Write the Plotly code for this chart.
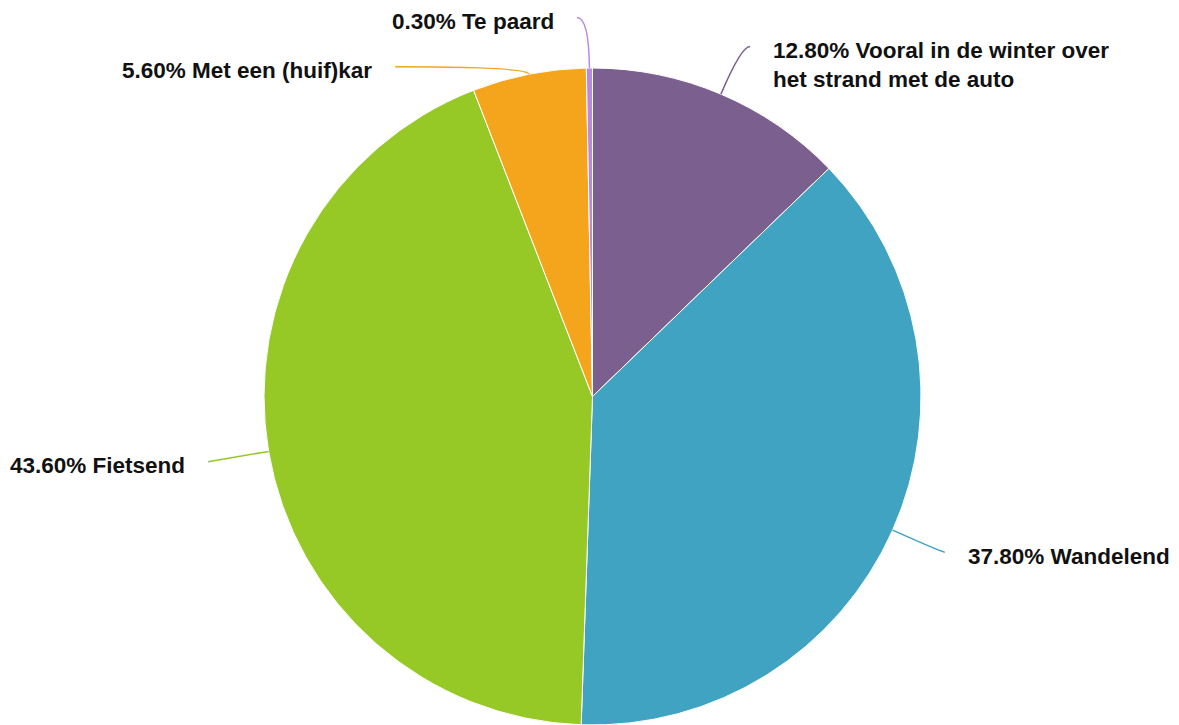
import math
import plotly.graph_objects as go

# ---- data ----
labels = ["Vooral in de winter over<br>het strand met de auto", "Wandelend", "Fietsend",
          "Met een (huif)kar", "Te paard"]
values = [12.8, 37.8, 43.6, 5.6, 0.3]
colors = ["#7B5F8E", "#40A3C1", "#96C826", "#F5A51C", "#B98BDF"]

# ---- layout constants (page pixels) ----
PAGE_OFF = 8              # browser default body margin
W, H = 1179 - PAGE_OFF, 725 - PAGE_OFF
R = 328.5
CX = 592.5 - PAGE_OFF     # figure coords
CY = H - R                # pie touches figure bottom
LABEL_R = 390
# per-label nudges of the label anchor (layout only)
nudge = [(5, 9), (-4, -3), (0, 0), (-122, 53), (-12, 11)]

fig = go.Figure(go.Pie(
    labels=labels, values=values, sort=False, direction="clockwise", rotation=0,
    marker=dict(colors=colors, line=dict(color="white", width=1)),
    textinfo="none", hoverinfo="label+percent", showlegend=False,
    domain=dict(x=[(CX - R) / W, (CX + R) / W], y=[0, 2 * R / H]),
))

def px(x, y):
    return x / W, 1 - y / H

total = sum(values)
cum = 0.0
shapes, annotations = [], []
for i, v in enumerate(values):
    mid = (cum + v / 2) / total * 2 * math.pi
    cum += v
    ux, uy = math.sin(mid), -math.cos(mid)
    ex, ey = CX + R * ux, CY + R * uy
    ax, ay = CX + LABEL_R * ux + nudge[i][0], CY + LABEL_R * uy + nudge[i][1]
    t = (ay - ey) / uy if abs(uy) > 1e-6 else 0
    t = max(t, 6)
    kx, ky = ex + t * ux, ey + t * uy
    p0, p1, p2 = px(ex, ey), px(kx, ky), px(ax, ay)
    shapes.append(dict(type="path", xref="paper", yref="paper",
                       path=f"M {p0[0]},{p0[1]} Q {p1[0]},{p1[1]} {p2[0]},{p2[1]}",
                       line=dict(color=colors[i], width=1.5)))
    right = ux > 0
    text = f"{v:.2f}% {labels[i]}"
    two_line = "<br>" in labels[i]
    annotations.append(dict(
        x=p2[0], y=p2[1], xref="paper", yref="paper", text=f"<b>{text}</b>",
        showarrow=False, xanchor="left" if right else "right",
        yanchor="top" if two_line else "middle", align="left" if right else "right",
        xshift=21 if right else -21, yshift=(11 if two_line else -4),
        font=dict(family="Liberation Sans, Arial, sans-serif", size=22.5, color="#111111"),
    ))

fig.update_layout(
    width=W, height=H, margin=dict(l=0, r=0, t=0, b=0),
    paper_bgcolor="white", plot_bgcolor="white",
    shapes=shapes, annotations=annotations,
)
fig.write_html("out.html")
